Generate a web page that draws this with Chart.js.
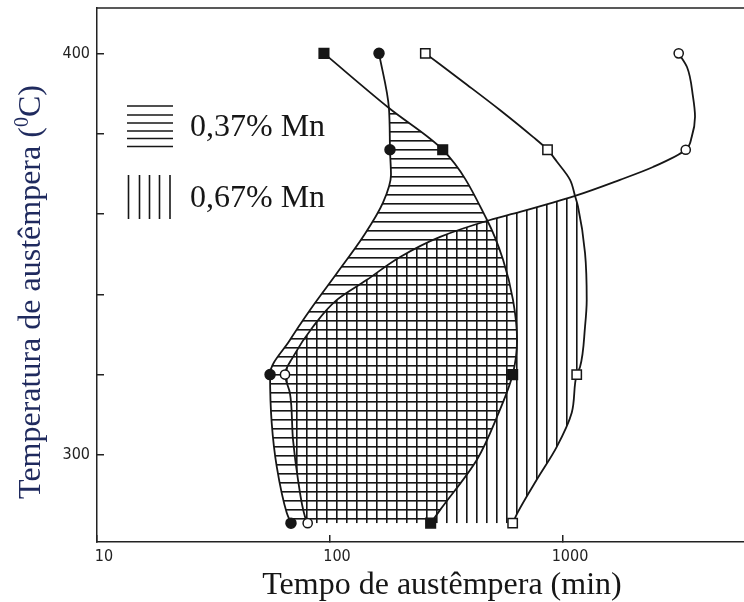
<!DOCTYPE html>
<html lang="pt">
<head>
    <meta charset="UTF-8">
    <title>Austêmpera</title>
    <script src="https://cdn.jsdelivr.net/npm/chart.js"></script>
    <style>
        html, body {
            margin: 0;
            padding: 0;
            background: #fff;
        }

        #wrap {
            width: 744px;
            height: 602px;
        }
    </style>
</head>
<body>
<div id="wrap"><canvas id="chart" width="744" height="602"></canvas></div>

<script>
    // axis ticks
    const xTicks = [10, 100, 1000];
    const xTickLabels = ['10', '100', '1000'];
    const yTicks = [300, 320, 340, 360, 380, 400];
    const yTickLabels = ['300', '', '', '', '', '400'];
    const seriesLabels = ['0,37% Mn', '0,67% Mn'];

    // measured points: tempo (min) x temperatura (°C)
    const blackCircles = [{x: 162.3, y: 400}, {x: 180.9, y: 376}, {x: 55.3, y: 320}, {x: 68.0, y: 283}];
    const blackSquares = [{x: 94.2, y: 400}, {x: 304.6, y: 376}, {x: 608, y: 320}, {x: 270.4, y: 283}];
    const openCircles = [{x: 3137, y: 400}, {x: 3363, y: 376}, {x: 64.1, y: 320}, {x: 80.2, y: 283}];
    const openSquares = [{x: 256.5, y: 400}, {x: 858, y: 376}, {x: 1145, y: 320}, {x: 608, y: 283}];

    // hand drawn curves
    const blackCircleCurve = [
        {x: 162.3, y: 400}, {x: 179, y: 386.4}, {x: 180.9, y: 376}, {x: 182.7, y: 369.7},
        {x: 168.8, y: 362.8}, {x: 138.6, y: 354.3}, {x: 107.2, y: 345.3}, {x: 82.1, y: 336.1},
        {x: 67.3, y: 328.6}, {x: 55.3, y: 320}, {x: 56.2, y: 308}, {x: 59.1, y: 297},
        {x: 65.2, y: 285.6}, {x: 68.0, y: 283}
    ];
    const blackSquareCurve = [
        {x: 94.2, y: 400}, {x: 179, y: 386.4}, {x: 304.6, y: 376}, {x: 472, y: 358.5},
        {x: 553, y: 348.6}, {x: 610, y: 338.6}, {x: 635, y: 328.6}, {x: 608, y: 320},
        {x: 521, y: 309.5}, {x: 427, y: 298.8}, {x: 297, y: 286.3}, {x: 270.4, y: 283}
    ];
    const openCircleCurve = [
        {x: 3137, y: 400}, {x: 3405, y: 396.6}, {x: 3613, y: 389.2}, {x: 3686, y: 384.2},
        {x: 3568, y: 379.2}, {x: 3363, y: 376}, {x: 2434, y: 371.7}, {x: 1756, y: 368.5},
        {x: 1126, y: 364.5}, {x: 654, y: 360.5}, {x: 486, y: 358.5}, {x: 297, y: 354.3},
        {x: 200, y: 349.3}, {x: 144, y: 343.6}, {x: 107, y: 338.6}, {x: 84.5, y: 331.9},
        {x: 69.4, y: 324.4}, {x: 64.1, y: 320}, {x: 67.3, y: 315.4}, {x: 69.4, y: 303.7},
        {x: 72.9, y: 293.8}, {x: 78.1, y: 284.6}, {x: 80.2, y: 283}
    ];
    const openSquareCurve = [
        {x: 256.5, y: 400}, {x: 387, y: 392.2}, {x: 536, y: 385.9}, {x: 743, y: 379.2},
        {x: 858, y: 376}, {x: 942, y: 373}, {x: 1072, y: 368.5}, {x: 1126, y: 364.5},
        {x: 1160, y: 361.8}, {x: 1243, y: 350.3}, {x: 1264, y: 338.6}, {x: 1243, y: 331.9},
        {x: 1183, y: 321.9}, {x: 1145, y: 320}, {x: 1090, y: 310.5}, {x: 940, y: 302},
        {x: 771, y: 293.8}, {x: 641, y: 285.8}, {x: 608, y: 283}
    ];

    const ink = '#161616';
    const serif = '"Liberation Serif", "Times New Roman", serif';
    const sans = "'DejaVu Sans Condensed', 'DejaVu Sans', sans-serif";

    function hatch(dir) {
        const c = document.createElement('canvas');
        c.width = dir === 'h' ? 8 : 10;
        c.height = dir === 'h' ? 9 : 8;
        const g = c.getContext('2d');
        g.fillStyle = ink;
        if (dir === 'h') {
            g.fillRect(0, 5, c.width, 1.6);
        } else {
            g.fillRect(6, 0, 1.6, c.height);
        }
        return g.createPattern(c, 'repeat');
    }

    const hPattern = hatch('h');
    const vPattern = hatch('v');

    function markers(data, style, radius, fill) {
        return {
            data: data,
            showLine: false,
            pointStyle: style,
            pointRadius: radius,
            pointBackgroundColor: fill,
            pointBorderColor: ink,
            pointBorderWidth: 1.5
        };
    }

    function curve(data) {
        return {
            data: data,
            borderColor: ink,
            borderWidth: 1.8,
            pointRadius: 0,
            cubicInterpolationMode: 'monotone',
            fill: false
        };
    }

    function area(data, pattern, target) {
        return {
            data: data,
            borderWidth: 0,
            pointRadius: 0,
            cubicInterpolationMode: 'monotone',
            backgroundColor: pattern || 'transparent',
            fill: target
        };
    }

    // no automatic label padding, the frame is fixed
    function noPadding(s) {
        s.paddingTop = 0;
        s.paddingBottom = 0;
        s.paddingLeft = 0;
        s.paddingRight = 0;
    }

    // frame top line, legend and axis titles
    const decor = {
        id: 'decor',
        afterDraw(chart) {
            const {ctx, chartArea} = chart;
            ctx.save();
            ctx.strokeStyle = '#222';
            ctx.lineWidth = 1.5;
            ctx.beginPath();
            ctx.moveTo(chartArea.left, chartArea.top);
            ctx.lineTo(chartArea.right, chartArea.top);
            ctx.stroke();

            // legend swatches
            ctx.strokeStyle = ink;
            ctx.lineWidth = 1.6;
            [106, 115, 123, 131, 138.5, 146.5].forEach(y => {
                ctx.beginPath();
                ctx.moveTo(127, y);
                ctx.lineTo(173, y);
                ctx.stroke();
            });
            [128.5, 139.5, 149.5, 159.5, 170].forEach(x => {
                ctx.beginPath();
                ctx.moveTo(x, 175);
                ctx.lineTo(x, 219);
                ctx.stroke();
            });

            ctx.fillStyle = ink;
            ctx.font = '32px ' + serif;
            ctx.textBaseline = 'alphabetic';
            ctx.textAlign = 'left';
            ctx.fillText(seriesLabels[0], 190, 136);
            ctx.fillText(seriesLabels[1], 190, 207);

            // x title
            ctx.textAlign = 'center';
            ctx.fillText('Tempo de austêmpera (min)', 442, 594);

            // y title with superscript
            ctx.translate(40, 292);
            ctx.rotate(-Math.PI / 2);
            ctx.textAlign = 'left';
            ctx.fillStyle = '#1f2a5e';
            const main = 'Temperatura de austêmpera (';
            const tail = 'C)';
            ctx.font = '32px ' + serif;
            const w1 = ctx.measureText(main).width;
            const w3 = ctx.measureText(tail).width;
            ctx.font = '20px ' + serif;
            const w2 = ctx.measureText('0').width;
            let x = -(w1 + w2 + w3) / 2;
            ctx.font = '32px ' + serif;
            ctx.fillText(main, x, 0);
            x += w1;
            ctx.font = '20px ' + serif;
            ctx.fillText('0', x, -12);
            x += w2;
            ctx.font = '32px ' + serif;
            ctx.fillText(tail, x, 0);
            ctx.restore();
        }
    };

    const axisGrid = {drawOnChartArea: false, drawTicks: true, tickLength: -7, color: '#222', lineWidth: 1.5};
    const axisBorder = {display: true, color: '#222', width: 1.5};

    function init() {
        new Chart(document.getElementById('chart'), {
            type: 'line',
            data: {
                datasets: [
                    markers(blackCircles, 'circle', 5, ink),
                    markers(blackSquares, 'rect', 6.8, ink),
                    markers(openCircles, 'circle', 4.6, '#fff'),
                    markers(openSquares, 'rect', 6.6, '#fff'),
                    curve(blackCircleCurve),
                    curve(blackSquareCurve),
                    curve(openCircleCurve),
                    curve(openSquareCurve),
                    area(blackCircleCurve.slice(1), hPattern, '+1'),
                    area(blackSquareCurve.slice(1), null, false),
                    area(openCircleCurve.slice(8), vPattern, '+1'),
                    area(openSquareCurve.slice(7), null, false)
                ]
            },
            options: {
                indexAxis: 'y',
                responsive: false,
                animation: false,
                events: [],
                layout: {autoPadding: false, padding: {top: 8, right: 0, bottom: 0, left: 0}},
                plugins: {
                    legend: {display: false},
                    tooltip: {enabled: false}
                },
                scales: {
                    x: {
                        type: 'logarithmic',
                        position: 'bottom',
                        min: 10,
                        max: 5981,
                        afterBuildTicks: s => { s.ticks = xTicks.map(v => ({value: v})); },
                        afterFit: s => { s.height = 60; noPadding(s); },
                        grid: axisGrid,
                        border: axisBorder,
                        ticks: {
                            autoSkip: false,
                            maxRotation: 0,
                            padding: 12,
                            labelOffset: 7,
                            color: '#222',
                            font: {family: sans, size: 16},
                            callback: (v, i) => xTickLabels[i]
                        }
                    },
                    y: {
                        type: 'linear',
                        position: 'left',
                        min: 278.3,
                        max: 411.3,
                        afterBuildTicks: s => { s.ticks = yTicks.map(v => ({value: v})); },
                        afterFit: s => { s.width = 97; noPadding(s); },
                        grid: axisGrid,
                        border: axisBorder,
                        ticks: {
                            autoSkip: false,
                            padding: 14,
                            color: '#222',
                            font: {family: sans, size: 16},
                            callback: (v, i) => yTickLabels[i]
                        }
                    }
                }
            },
            plugins: [decor]
        });
    }

    document.addEventListener('DOMContentLoaded', init);
</script>

</body>
</html>
